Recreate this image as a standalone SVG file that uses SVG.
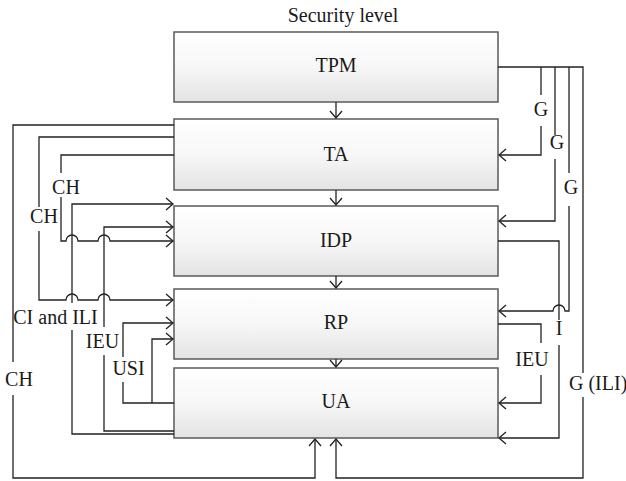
<svg xmlns="http://www.w3.org/2000/svg" width="626" height="481" viewBox="0 0 626 481">
<style>
.box{stroke:#5a5a5a;stroke-width:1.5;fill:url(#g)}
.lbl{font-family:"Liberation Serif","Times New Roman",serif;font-size:20px;fill:#1a1a1a;text-anchor:middle}
.c{fill:none;stroke:#222;stroke-width:1.3}
.a{marker-end:url(#ar)}
</style>
<defs>
<linearGradient id="g" x1="0" y1="0" x2="0" y2="1">
<stop offset="0" stop-color="#ffffff"/>
<stop offset="0.5" stop-color="#f7f7f7"/>
<stop offset="1" stop-color="#e3e3e3"/>
</linearGradient>
<marker id="ar" viewBox="-10 -10 20 20" markerWidth="20" markerHeight="20" refX="0" refY="0" orient="auto" markerUnits="userSpaceOnUse">
<path d="M-7,-6 L0,0 L-7,6" fill="none" stroke="#222" stroke-width="1.3"/>
</marker>
</defs>
<rect width="626" height="481" fill="#fff"/>
<text class="lbl" x="343" y="22">Security level</text>
<g id="TPM"><rect class="box" x="174" y="32" width="324" height="70"/><text class="lbl" x="336" y="72">TPM</text></g>
<g id="TA"><rect class="box" x="174" y="119" width="324" height="71"/><text class="lbl" x="336" y="161">TA</text></g>
<g id="IDP"><rect class="box" x="174" y="206" width="324" height="70"/><text class="lbl" x="336" y="247">IDP</text></g>
<g id="RP"><rect class="box" x="174" y="289" width="324" height="70"/><text class="lbl" x="336" y="329">RP</text></g>
<g id="UA"><rect class="box" x="174" y="368" width="324" height="70"/><text class="lbl" x="336" y="408">UA</text></g>
<g id="connectors">
<path class="c a" d="M336,102 V118"/>
<path class="c a" d="M336,190 V205"/>
<path class="c a" d="M336,276 V288"/>
<path class="c a" d="M336,359 V367"/>
<path class="c a" d="M174,125 H13 V362 M13,395 V478 H315 V439"/>
<path class="c a" d="M174,137 H39 V207 M39,231 V300 H66 A6,6 0 0 1 78,300 H98 A6,6 0 0 1 110,300 H173"/>
<path class="c a" d="M174,155 H61 V173 M61,197 V241 H66 A6,6 0 0 1 78,241 H98 A6,6 0 0 1 110,241 H173"/>
<path class="c a" d="M174,434 H72 V330 M72,303 V204 H173"/>
<path class="c a" d="M174,431 H104 V355 M104,327 V227 H173"/>
<path class="c a" d="M174,403 H123 V382 M123,357 V323 H173"/>
<path class="c a" d="M152,403 V339 H173"/>
<path class="c a" d="M498,67 H583 V373 M583,397 V478 H336 V439"/>
<path class="c a" d="M541,67 V95 M541,126 V155 H499"/>
<path class="c a" d="M555,67 V135 M555,159 V221 H499"/>
<path class="c a" d="M569,67 V173 M569,206 V311 H565 A6,6 0 0 0 553,311 H499"/>
<path class="c a" d="M498,241 H559 V320 M559,345 V438 H499"/>
<path class="c a" d="M498,324 H541 V343 M541,375 V403 H499"/>
</g>
<g id="labels">
<text class="lbl" x="66" y="194">CH</text>
<text class="lbl" x="44" y="223">CH</text>
<text class="lbl" x="55.5" y="324">CI and ILI</text>
<text class="lbl" x="102.5" y="348">IEU</text>
<text class="lbl" x="128.5" y="375">USI</text>
<text class="lbl" x="19" y="386">CH</text>
<text class="lbl" x="541" y="116">G</text>
<text class="lbl" x="557" y="149">G</text>
<text class="lbl" x="571" y="194">G</text>
<text class="lbl" x="559" y="335">I</text>
<text class="lbl" x="532" y="366">IEU</text>
<text class="lbl" x="569" y="390" style="text-anchor:start">G (ILI)</text>
</g>
</svg>
